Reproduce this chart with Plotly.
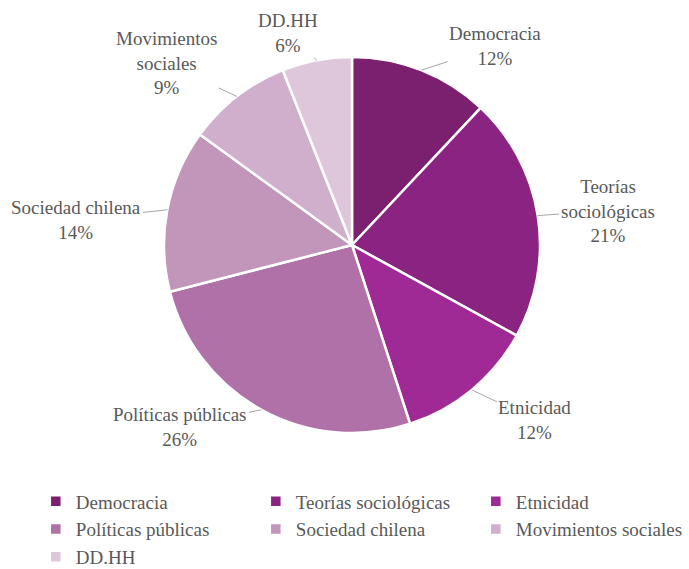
import math
import plotly.graph_objects as go

categories = ["Democracia", "Teorías sociológicas", "Etnicidad", "Políticas públicas",
              "Sociedad chilena", "Movimientos sociales", "DD.HH"]
display_labels = ["Democracia", "Teorías<br>sociológicas", "Etnicidad", "Políticas públicas",
                  "Sociedad chilena", "Movimientos<br>sociales", "DD.HH"]
values = [12, 21, 12, 26, 14, 9, 6]
colors = ["#7B1F6F", "#8A2381", "#A02A95", "#B070A8", "#C295BB", "#CFAFCB", "#DFC7DB"]

# label text offsets (px) from the slice's outer edge midpoint (styling of the leader lines)
label_dx = [74, 70, 63, -81, -91, -70, -29]
label_dy = [-24, -5, 30, 17, 10, -33, -27]

FONT = "Liberation Serif"
GRAY = "#595959"
W, H = 689, 569
ML, MR, MT, MB = 0, 0, 57, 136
DOM_X = [163 / W, 541 / W]
plot_w, plot_h = W - ML - MR, H - MT - MB

fig = go.Figure(go.Pie(
    labels=categories,
    values=values,
    textinfo="none",
    sort=False,
    direction="clockwise",
    rotation=0,
    domain=dict(x=DOM_X, y=[0, 1]),
    marker=dict(colors=colors, line=dict(color="white", width=2.5)),
    hoverinfo="label+percent",
))

# outside labels with leader lines, anchored at the middle of each slice's arc
total = sum(values)
radius_px = min((DOM_X[1] - DOM_X[0]) * plot_w, plot_h) / 2
cx = (DOM_X[0] + DOM_X[1]) / 2
cum = 0
for lab, v, dx, dy in zip(display_labels, values, label_dx, label_dy):
    mid = 2 * math.pi * (cum + v / 2) / total
    cum += v
    px = cx + radius_px * math.sin(mid) / plot_w
    py = 0.5 + radius_px * math.cos(mid) / plot_h
    pct = round(100 * v / total)
    fig.add_annotation(
        x=px, y=py, xref="paper", yref="paper",
        text=f"{lab}<br>{pct}%",
        showarrow=True, arrowhead=0, arrowwidth=1, arrowcolor="#A6A6A6",
        ax=dx, ay=dy, standoff=0,
        font=dict(family=FONT, size=19, color=GRAY),
        align="center",
    )

fig.update_layout(
    width=W, height=H,
    margin=dict(l=ML, r=MR, t=MT, b=MB, autoexpand=False),
    paper_bgcolor="white",
    plot_bgcolor="white",
    font=dict(family=FONT, color=GRAY, size=19),
    showlegend=True,
    legend=dict(
        orientation="h",
        xref="container", yref="container",
        x=0.052, y=0.152, xanchor="left", yanchor="top",
        entrywidth=175, entrywidthmode="pixels",
        font=dict(family=FONT, size=19, color=GRAY),
        traceorder="normal",
    ),
)

fig.write_html("out.html")
